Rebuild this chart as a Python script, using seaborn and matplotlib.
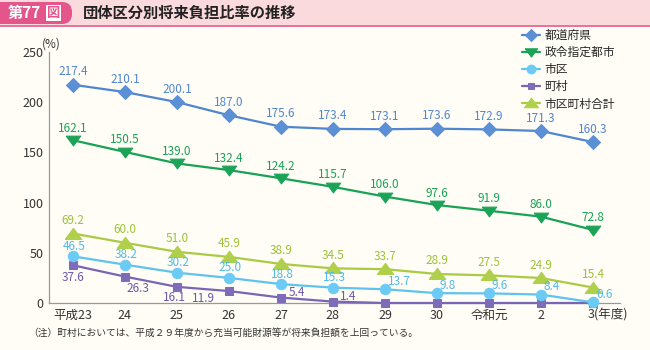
import pandas as pd
import seaborn as sns
import matplotlib.pyplot as plt
from matplotlib.patches import Rectangle, FancyBboxPatch
from matplotlib.transforms import ScaledTranslation, IdentityTransform

# データ
years = ['平成23', '24', '25', '26', '27', '28', '29', '30', '令和元', '2', '3(年度)']
pref = [217.4, 210.1, 200.1, 187.0, 175.6, 173.4, 173.1, 173.6, 172.9, 171.3, 160.3]
designated = [162.1, 150.5, 139.0, 132.4, 124.2, 115.7, 106.0, 97.6, 91.9, 86.0, 72.8]
city = [46.5, 38.2, 30.2, 25.0, 18.8, 15.3, 13.7, 9.8, 9.6, 8.4, 0.6]
town = [37.6, 26.3, 16.1, 11.9, 5.4, 1.4, 0, 0, 0, 0, 0]
total = [69.2, 60.0, 51.0, 45.9, 38.9, 34.5, 33.7, 28.9, 27.5, 24.9, 15.4]
town_labels = 6  # 平成29年度以降はラベルなし

sns.set_theme(style='white')
plt.rcParams['font.family'] = ['Noto Sans CJK JP', 'DejaVu Sans']

bg = '#fffdf6'
fig = plt.figure(figsize=(6.5, 3.5), dpi=100, facecolor=bg)
ax = fig.add_axes([49/650, 1-303/350, (620-49)/650, (303-52)/350])
ax.set_facecolor(bg)

tri_up = [(-1, -0.6), (1, -0.6), (0, 0.75), (-1, -0.6)]
tri_dn = [(-1, 0.6), (1, 0.6), (0, -0.75), (-1, 0.6)]

x = list(range(len(years)))
series = [
    ('都道府県', pref, '#4f86cf', '#5b8fd6', 'D', 7),
    ('政令指定都市', designated, '#18a255', '#1ba458', tri_dn, 10.5),
    ('町村', town, '#7865b5', '#7e6cb9', 's', 5.5),
    ('市区', city, '#5fc3ef', '#6ccbf4', 'o', 7.5),
    ('市区町村合計', total, '#a9cb44', '#b0d04b', tri_up, 12),
]
handles = {}
for name, vals, lc, mc, mk, ms in series:
    df = pd.DataFrame({'x': x, 'v': vals})
    sns.lineplot(data=df, x='x', y='v', ax=ax, color=lc, linewidth=1.6,
                 marker=mk, markersize=ms, markerfacecolor=mc,
                 markeredgecolor=mc, clip_on=False, zorder=3)
    handles[name] = ax.lines[-1]

def lab(xi, v, txt, color, dx, dy, ha='center'):
    ax.annotate(txt, (xi, v), xytext=(dx/1.389, dy/1.389), textcoords='offset points',
                ha=ha, va='center', color=color, fontsize=8.5, zorder=5)

for i, v in enumerate(pref):
    lab(i, v, f'{v:.1f}', '#4f86cf', 0, 13)
for i, v in enumerate(designated):
    lab(i, v, f'{v:.1f}', '#18a255', 0, 12)
for i, v in enumerate(total):
    lab(i, v, f'{v:.1f}', '#9cc23a', 0, 13)
for i, v in enumerate(city):
    if i <= 5:
        lab(i, v, f'{v:.1f}', '#4fbaec', 1, 10)
    else:
        lab(i, v, f'{v:.1f}', '#4fbaec', 3, 8, ha='left')
town_off = [(0, -12), (13, -12), (-2, -11), (-25, -7), (16, 5), (15, 5)]
for i in range(town_labels):
    dx, dy = town_off[i]
    lab(i, town[i], f'{town[i]:.1f}', '#6a58aa', dx, dy)

ax.set_xlim(-0.46, 10.52)
ax.set_ylim(0, 250)
ax.set_yticks([0, 50, 100, 150, 200, 250])
ax.set_xticks(x)
ax.set_xticklabels(years)
ax.set_xlabel('')
ax.set_ylabel('')
ax.tick_params(axis='both', direction='in', length=4, width=0.8, color='#888888',
               labelsize=9, labelcolor='#333333', pad=4)
last = ax.get_xticklabels()[-1]
last.set_ha('left')
last.set_transform(last.get_transform() + ScaledTranslation(-5/100, 0, fig.dpi_scale_trans))
for s in ['top', 'right']:
    ax.spines[s].set_visible(False)
for s in ['left', 'bottom']:
    ax.spines[s].set_color('#999999')
    ax.spines[s].set_linewidth(0.9)
fig.text(42/650, 1-44/350, '(%)', fontsize=8.5, color='#333333', va='center')

leg_order = ['都道府県', '政令指定都市', '市区', '町村', '市区町村合計']
ax.legend([handles[n] for n in leg_order], leg_order, loc='upper left',
          bbox_to_anchor=(522/650, 1-29/350), bbox_transform=fig.transFigure,
          frameon=False, fontsize=8.5, handlelength=1.5, handletextpad=0.4,
          labelspacing=0.35, borderpad=0, borderaxespad=0, markerscale=0.85)

# タイトル帯
fig.patches.append(Rectangle((0, 1-25/350), 1, 25/350, transform=fig.transFigure,
                             facecolor='#fadadd', edgecolor='none', zorder=0))
fig.patches.append(Rectangle((0, 1-27/350), 1, 2/350, transform=fig.transFigure,
                             facecolor='#e9739b', edgecolor='none', zorder=0))
fig.patches.append(FancyBboxPatch((-20, 350-24), 92, 22,
                                  boxstyle='round,pad=0,rounding_size=10',
                                  transform=IdentityTransform(), facecolor='#e3558b',
                                  edgecolor='none', zorder=1))
fig.text(8/650, 1-13/350, '第77', fontsize=11, fontweight='bold', color='white', va='center')
fig.text(47/650, 1-13/350, '図', fontsize=9.5, fontweight='bold', color='#e3558b', va='center',
         bbox=dict(boxstyle='square,pad=0.08', facecolor='white', edgecolor='none'))
fig.text(83/650, 1-13/350, '団体区分別将来負担比率の推移', fontsize=11, fontweight='bold',
         color='#222222', va='center')

fig.text(28/650, 1-333/350, '（注）町村においては、平成２９年度から充当可能財源等が将来負担額を上回っている。',
         fontsize=7, color='#333333', va='center')

plt.savefig('out.png', dpi=100, facecolor=bg)
